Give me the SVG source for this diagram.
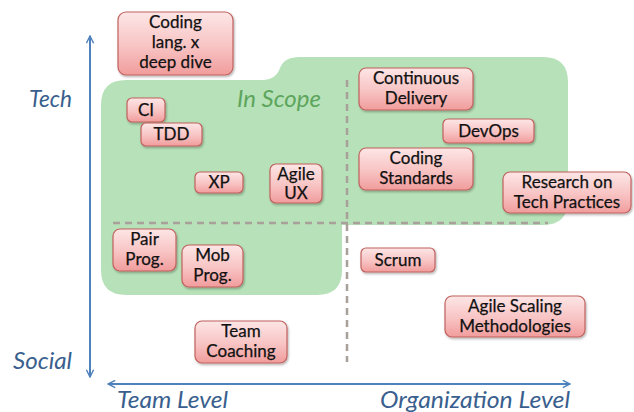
<svg xmlns="http://www.w3.org/2000/svg" width="634" height="412" viewBox="0 0 634 412">
<defs>
<linearGradient id="pink" x1="0" y1="0" x2="0" y2="1">
<stop offset="0" stop-color="#FDE6E6"/>
<stop offset="0.55" stop-color="#F8C3C3"/>
<stop offset="1" stop-color="#F19C9C"/>
</linearGradient>
<filter id="sh" x="-10%" y="-10%" width="130%" height="140%">
<feDropShadow dx="1" dy="1.5" stdDeviation="1.2" flood-color="#000" flood-opacity="0.3"/>
</filter>
<marker id="ah" viewBox="0 0 10 10" refX="9" refY="5" markerWidth="9" markerHeight="9" markerUnits="userSpaceOnUse" orient="auto-start-reverse">
<path d="M1,1 L9,5 L1,9" fill="none" stroke="#4F81BD" stroke-width="1.6"/>
</marker>
<style>
.box{fill:url(#pink);stroke:#C0625E;stroke-width:1.2;filter:url(#sh)}
.t{font-family:Lato,"Liberation Sans",sans-serif;font-size:17px;fill:#111;text-anchor:middle;stroke:#111;stroke-width:0.25}
.ax{font-family:Lato,"Liberation Sans",sans-serif;font-size:24px;font-style:italic;fill:#3A5F8E}
.scope{font-family:Lato,"Liberation Sans",sans-serif;font-size:24px;font-style:italic;fill:#5DA55D}
.axis{stroke:#4F81BD;stroke-width:2;fill:none;marker-start:url(#ah);marker-end:url(#ah)}
.dash{stroke:#A8A199;stroke-width:2.5;stroke-dasharray:7 5;fill:none}
</style>
</defs>
<rect width="634" height="412" fill="#FFFFFF"/>
<g id="scope">
<path d="M101,105 Q101,80 126,80 L262,80 Q276,80 280,68 Q284,57 300,57 L543,57 Q568,57 568,82 L568,200 Q568,225 543,225 L342,225 L342,270 Q342,295 317,295 L126,295 Q101,295 101,270 Z" fill="#B7E2B9"/>
<text x="237" y="107" class="scope" textLength="84" lengthAdjust="spacingAndGlyphs">In Scope</text>
</g>
<g id="dividers">
<line x1="347" y1="80" x2="347" y2="362" class="dash"/>
<line x1="113" y1="223" x2="548" y2="223" class="dash"/>
</g>
<g id="connectors">
<line x1="90" y1="377" x2="90" y2="36" class="axis"/>
<line x1="108" y1="384" x2="570" y2="384" class="axis"/>
</g>
<g id="labels">
<text x="29" y="107" class="ax" textLength="43" lengthAdjust="spacingAndGlyphs">Tech</text>
<text x="13" y="369" class="ax" textLength="59" lengthAdjust="spacingAndGlyphs">Social</text>
<text x="117" y="408" class="ax" textLength="111" lengthAdjust="spacingAndGlyphs">Team Level</text>
<text x="380" y="408" class="ax" textLength="190" lengthAdjust="spacingAndGlyphs">Organization Level</text>
</g>
<g id="n-coding-lang">
<rect x="118" y="12" width="115" height="63" rx="8" class="box"/>
<text class="t" x="175.5" y="28">Coding</text>
<text class="t" x="175.5" y="48">lang. x</text>
<text class="t" x="175.5" y="68">deep dive</text>
</g>
<g id="n-ci">
<rect x="127" y="98" width="38" height="24" rx="5" class="box"/>
<text class="t" x="146" y="116">CI</text>
</g>
<g id="n-tdd">
<rect x="141" y="123" width="61" height="23" rx="5" class="box"/>
<text class="t" x="171.5" y="140">TDD</text>
</g>
<g id="n-xp">
<rect x="195" y="172" width="48" height="21" rx="5" class="box"/>
<text class="t" x="219" y="188">XP</text>
</g>
<g id="n-agile-ux">
<rect x="270" y="164" width="52" height="39" rx="6" class="box"/>
<text class="t" x="296" y="180">Agile</text>
<text class="t" x="296" y="199">UX</text>
</g>
<g id="n-cd">
<rect x="359" y="68" width="114" height="42" rx="7" class="box"/>
<text class="t" x="416" y="84">Continuous</text>
<text class="t" x="416" y="104">Delivery</text>
</g>
<g id="n-devops">
<rect x="443" y="119" width="91" height="24" rx="5" class="box"/>
<text class="t" x="488.5" y="137">DevOps</text>
</g>
<g id="n-coding-std">
<rect x="359" y="148" width="114" height="42" rx="7" class="box"/>
<text class="t" x="416" y="164">Coding</text>
<text class="t" x="416" y="184">Standards</text>
</g>
<g id="n-research">
<rect x="503" y="172" width="128" height="41" rx="7" class="box"/>
<text class="t" x="567" y="188">Research on</text>
<text class="t" x="567" y="208">Tech Practices</text>
</g>
<g id="n-pair">
<rect x="113" y="229" width="63" height="42" rx="7" class="box"/>
<text class="t" x="144.5" y="245">Pair</text>
<text class="t" x="144.5" y="265">Prog.</text>
</g>
<g id="n-mob">
<rect x="182" y="245" width="61" height="42" rx="7" class="box"/>
<text class="t" x="212.5" y="261">Mob</text>
<text class="t" x="212.5" y="281">Prog.</text>
</g>
<g id="n-scrum">
<rect x="361" y="248" width="74" height="24" rx="5" class="box"/>
<text class="t" x="398" y="266">Scrum</text>
</g>
<g id="n-scaling">
<rect x="445" y="296" width="140" height="41" rx="7" class="box"/>
<text class="t" x="515" y="312">Agile Scaling</text>
<text class="t" x="515" y="332">Methodologies</text>
</g>
<g id="n-coaching">
<rect x="195" y="321" width="92" height="42" rx="7" class="box"/>
<text class="t" x="241" y="337">Team</text>
<text class="t" x="241" y="357">Coaching</text>
</g>
</svg>
